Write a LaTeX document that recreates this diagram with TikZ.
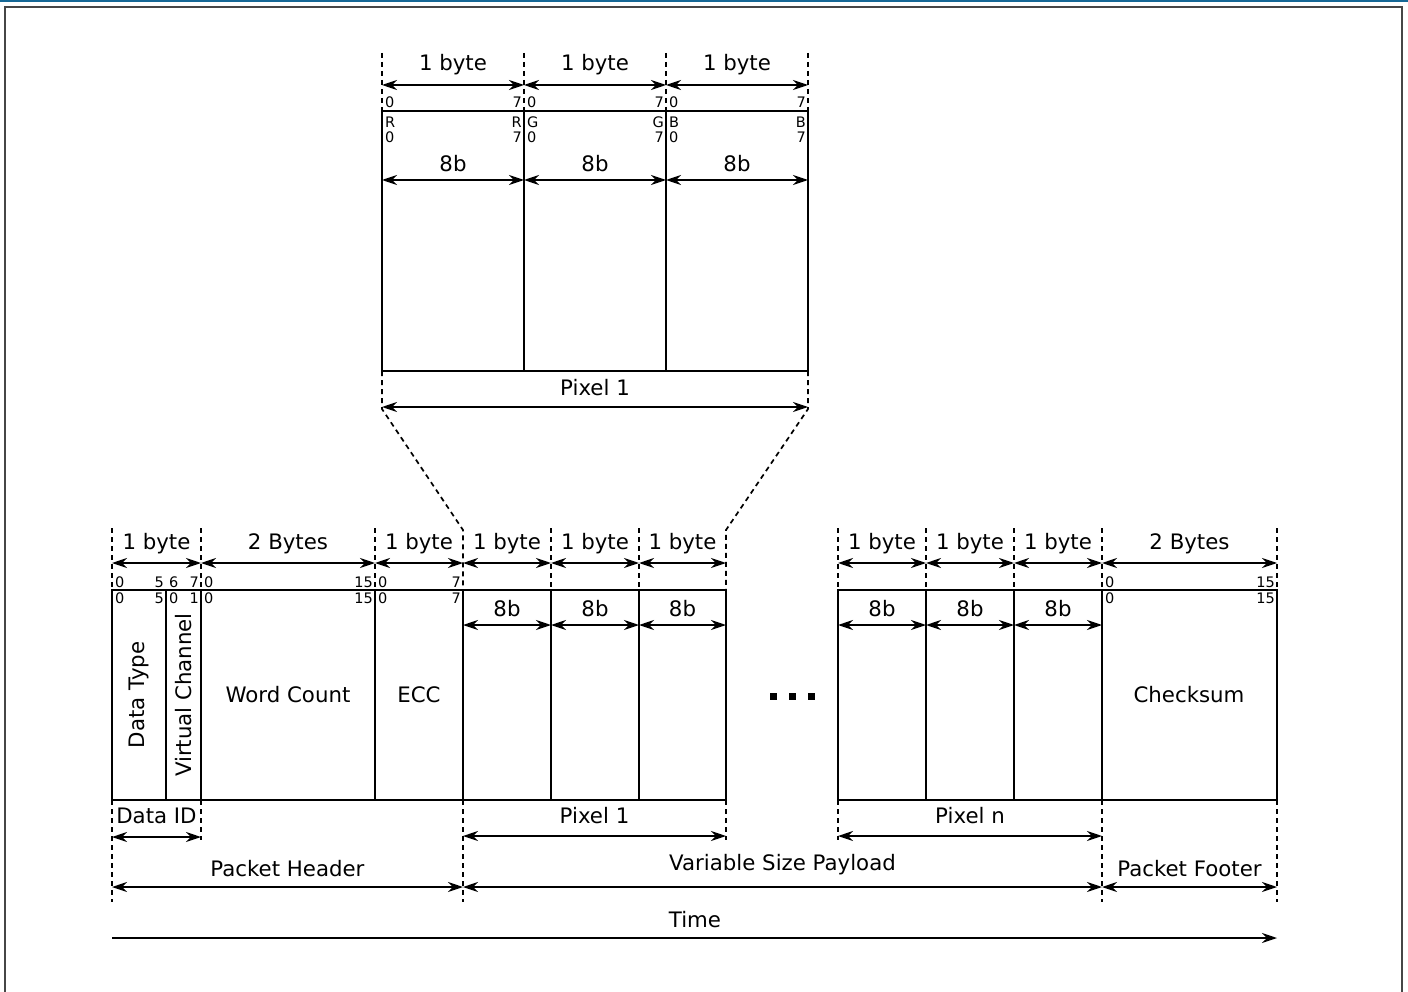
\documentclass[tikz,border=0pt]{standalone}
\usepackage{fontspec}
\setmainfont{DejaVu Sans}
\usetikzlibrary{arrows.meta}
\definecolor{topblue}{RGB}{22,104,150}
\definecolor{framegray}{RGB}{70,70,70}
\tikzset{
  box/.style={line width=1.9pt},
  guide/.style={line width=1.7pt, dash pattern=on 5pt off 4pt},
  dimtip/.tip={Stealth[length=15pt,width=10pt,inset=5pt]},
  dim/.style={line width=1.6pt, dimtip-dimtip},
  onetip/.style={line width=1.6pt, -dimtip},
  lbl/.style={font=\fontsize{21.3}{25}\selectfont, inner sep=0pt},
  bit/.style={font=\fontsize{14.5}{17}\selectfont, inner sep=0pt},
  dot/.style={fill=black, draw=none, minimum size=7pt, inner sep=0pt},
}
\newcommand\dimarr[6]{% name, x1, x2, arrow y, label y, text
  \coordinate (#1l) at (#2,#4);
  \coordinate (#1r) at (#3,#4);
  \node[lbl] (#1t) at ({(#2+#3)/2},#5) {#6};
  \draw[dim] (#1l) -- (#1r);
}
\newcommand\bitL[4]{\node[bit,anchor=west] (#1) at (#2+3,#3) {#4};}
\newcommand\bitR[4]{\node[bit,anchor=east] (#1) at (#2-2,#3) {#4};}
\begin{document}
\begin{tikzpicture}[x=1pt,y=-1pt]
\useasboundingbox (0,0) rectangle (1408,992);
% frame
\fill[topblue] (0,0) rectangle (1408,2.5);
\draw[framegray, line width=2pt] (5,992) -- (5,7) -- (1402,7) -- (1402,992);

% ================= top zoomed pixel =================
\foreach \x in {382,524,666,808} \draw[guide] (\x,53) -- (\x,111);
\draw[box] (382,111) rectangle (808,371);
\draw[box] (524,111) -- (524,371);
\draw[box] (666,111) -- (666,371);
\dimarr{tb1}{382}{524}{85}{65}{1 byte}
\dimarr{tb2}{524}{666}{85}{65}{1 byte}
\dimarr{tb3}{666}{808}{85}{65}{1 byte}
\bitL{tn1}{382}{102}{0} \bitR{tn2}{524}{102}{7}
\bitL{tn3}{524}{102}{0} \bitR{tn4}{666}{102}{7}
\bitL{tn5}{666}{102}{0} \bitR{tn6}{808}{102}{7}
\bitL{tr1}{382}{122.5}{R} \bitR{tr2}{524}{122.5}{R}
\bitL{tg1}{524}{122.5}{G} \bitR{tg2}{666}{122.5}{G}
\bitL{tc1}{666}{122.5}{B} \bitR{tc2}{808}{122.5}{B}
\bitL{ts1}{382}{137.5}{0} \bitR{ts2}{524}{137.5}{7}
\bitL{ts3}{524}{137.5}{0} \bitR{ts4}{666}{137.5}{7}
\bitL{ts5}{666}{137.5}{0} \bitR{ts6}{808}{137.5}{7}
\dimarr{t8a}{382}{524}{180}{164}{8b}
\dimarr{t8b}{524}{666}{180}{164}{8b}
\dimarr{t8c}{666}{808}{180}{164}{8b}
\dimarr{tpx}{382}{808}{407}{388}{Pixel 1}
\draw[guide] (382,371) -- (382,409) -- (463,530) -- (463,590);
\draw[guide] (808,371) -- (808,409) -- (726,530) -- (726,590);

% ================= bottom packet =================
\foreach \x in {112,201,375,551,639,838,926,1014,1102,1277} \draw[guide] (\x,528) -- (\x,590);
\draw[box] (112,590) rectangle (726,800);
\foreach \x in {166,201,375,463,551,639} \draw[box] (\x,590) -- (\x,800);
\draw[box] (838,590) rectangle (1277,800);
\foreach \x in {926,1014,1102} \draw[box] (\x,590) -- (\x,800);

\dimarr{b1}{112}{201}{563}{544}{1 byte}
\dimarr{b2}{201}{375}{563}{544}{2 Bytes}
\dimarr{b3}{375}{463}{563}{544}{1 byte}
\dimarr{b4}{463}{551}{563}{544}{1 byte}
\dimarr{b5}{551}{639}{563}{544}{1 byte}
\dimarr{b6}{639}{726}{563}{544}{1 byte}
\dimarr{b7}{838}{926}{563}{544}{1 byte}
\dimarr{b8}{926}{1014}{563}{544}{1 byte}
\dimarr{b9}{1014}{1102}{563}{544}{1 byte}
\dimarr{b10}{1102}{1277}{563}{544}{2 Bytes}

% bit numbers, row 1
\bitL{r1a}{112}{582}{0} \bitR{r1b}{166}{582}{5}
\bitL{r1c}{166}{582}{6} \bitR{r1d}{201}{582}{7}
\bitL{r1e}{201}{582}{0} \bitR{r1f}{375}{582}{15}
\bitL{r1g}{375}{582}{0} \bitR{r1h}{463}{582}{7}
\bitL{r1i}{1102}{582}{0} \bitR{r1j}{1277}{582}{15}
% bit numbers, row 2
\bitL{r2a}{112}{598}{0} \bitR{r2b}{166}{598}{5}
\bitL{r2c}{166}{598}{0} \bitR{r2d}{201}{598}{1}
\bitL{r2e}{201}{598}{0} \bitR{r2f}{375}{598}{15}
\bitL{r2g}{375}{598}{0} \bitR{r2h}{463}{598}{7}
\bitL{r2i}{1102}{598}{0} \bitR{r2j}{1277}{598}{15}

\dimarr{p1}{463}{551}{625}{609}{8b}
\dimarr{p2}{551}{639}{625}{609}{8b}
\dimarr{p3}{639}{726}{625}{609}{8b}
\dimarr{p4}{838}{926}{625}{609}{8b}
\dimarr{p5}{926}{1014}{625}{609}{8b}
\dimarr{p6}{1014}{1102}{625}{609}{8b}

\node[lbl, rotate=90] (dt) at (139,695) {Data Type};
\node[lbl, rotate=90] (vc) at (184,695) {Virtual Channel};
\node[lbl] (wc) at (288,695) {Word Count};
\node[lbl] (ecc) at (419,695) {ECC};
\node[lbl] (cs) at (1189,695) {Checksum};
\node[dot] (d1) at (773,696) {};
\node[dot] (d2) at (792,696) {};
\node[dot] (d3) at (811,696) {};

% lower guides
\foreach \x in {112,463,1102,1277} \draw[guide] (\x,800) -- (\x,902);
\foreach \x in {201,726,838} \draw[guide] (\x,800) -- (\x,840);

\dimarr{did}{112}{201}{837}{816}{Data ID}
\dimarr{px1}{463}{726}{836}{816}{Pixel 1}
\dimarr{pxn}{838}{1102}{836}{816}{Pixel n}
\dimarr{ph}{112}{463}{887}{869}{Packet Header}
\dimarr{pl}{463}{1102}{887}{865}{Variable Size Payload}
\dimarr{pf}{1102}{1277}{887}{869}{Packet Footer}

\coordinate (time0) at (112,938);
\coordinate (time1) at (1277,938);
\node[lbl] (timet) at (695,920) {Time};
\draw[onetip] (time0) -- (time1);
\end{tikzpicture}
\end{document}
